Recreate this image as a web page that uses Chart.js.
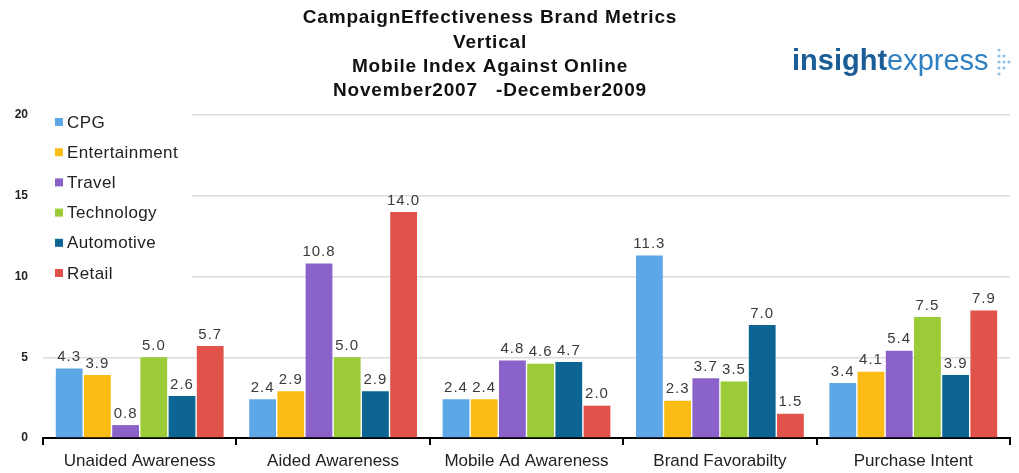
<!DOCTYPE html>
<html>
<head>
<meta charset="utf-8">
<script src="https://cdn.jsdelivr.net/npm/chart.js@4"></script>
<style>
  body { margin: 0; background: #fff; }
  #wrap { width: 1019px; height: 473px; position: relative; }
</style>
</head>
<body>
<div id="wrap"><canvas id="chart"></canvas></div>
<script>
// data
var categories = ['Unaided Awareness', 'Aided Awareness', 'Mobile Ad Awareness', 'Brand Favorabilty', 'Purchase Intent'];
var seriesNames = ['CPG', 'Entertainment', 'Travel', 'Technology', 'Automotive', 'Retail'];
var cpg = [4.3, 2.4, 2.4, 11.3, 3.4];
var entertainment = [3.9, 2.9, 2.4, 2.3, 4.1];
var travel = [0.8, 10.8, 4.8, 3.7, 5.4];
var technology = [5.0, 5.0, 4.6, 3.5, 7.5];
var automotive = [2.6, 2.9, 4.7, 7.0, 3.9];
var retail = [5.7, 14.0, 2.0, 1.5, 7.9];
var yTicks = [0, 5, 10, 15, 20];
var titleLines = ['CampaignEffectiveness Brand Metrics', 'Vertical', 'Mobile Index Against Online', 'November2007   -December2009'];

var colors = ['#5ea7e6', '#fbbc16', '#8b62c9', '#9bcb36', '#0c6592', '#e0524a'];
var values = [cpg, entertainment, travel, technology, automotive, retail];

var FONT = '"Liberation Sans", Arial, sans-serif';

// title, legend, logo and value labels
var extras = {
  id: 'extras',
  afterDatasetsDraw: function(chart) {
    var ctx = chart.ctx;
    ctx.save();
    ctx.fillStyle = '#3a3a3a';
    ctx.font = '15px ' + FONT;
    ctx.letterSpacing = '1px';
    ctx.textAlign = 'center';
    ctx.textBaseline = 'bottom';
    chart.data.datasets.forEach(function(ds, i) {
      chart.getDatasetMeta(i).data.forEach(function(bar, j) {
        ctx.fillText(ds.data[j].toFixed(1), bar.x, bar.y - 4);
      });
    });
    ctx.restore();
  },
  afterDraw: function(chart) {
    var ctx = chart.ctx;
    ctx.save();
    // title
    ctx.fillStyle = '#111';
    ctx.font = 'bold 19px ' + FONT;
    ctx.letterSpacing = '0.8px';
    ctx.textAlign = 'center';
    ctx.textBaseline = 'middle';
    titleLines.forEach(function(t, i) {
      ctx.fillText(t, 490, 18 + i * 24.3);
    });
    // legend box
    ctx.fillStyle = '#fff';
    ctx.fillRect(40, 108, 152, 182);
    ctx.font = '17px ' + FONT;
    ctx.letterSpacing = '0.4px';
    ctx.textAlign = 'left';
    seriesNames.forEach(function(n, i) {
      var y = 122 + i * 30.2;
      ctx.fillStyle = colors[i];
      ctx.fillRect(55, y - 4, 8, 8);
      ctx.fillStyle = '#222';
      ctx.fillText(n, 67, y + 1);
    });
    // logo
    ctx.letterSpacing = '0px';
    ctx.textBaseline = 'alphabetic';
    ctx.font = 'bold 29px ' + FONT;
    ctx.fillStyle = '#1b5d96';
    ctx.fillText('insight', 792, 70);
    var w = ctx.measureText('insight').width;
    ctx.font = '29px ' + FONT;
    ctx.fillStyle = '#2f80c2';
    ctx.fillText('express', 792 + w, 70);
    ctx.fillStyle = '#8fc3e8';
    var dots = [[0,0],[0,1],[0,2],[0,3],[0,4],[1,1],[1,2],[1,3],[2,2]];
    dots.forEach(function(d) {
      ctx.beginPath();
      ctx.arc(999 + d[0] * 5, 50 + d[1] * 6, 1.6, 0, Math.PI * 2);
      ctx.fill();
    });
    ctx.restore();
  }
};

new Chart(document.getElementById('chart'), {
  type: 'bar',
  data: {
    labels: categories,
    datasets: seriesNames.map(function(n, i) {
      return {
        label: n,
        data: values[i],
        backgroundColor: colors[i],
        borderWidth: 0,
        barPercentage: 0.95,
        categoryPercentage: 0.875
      };
    })
  },
  options: {
    responsive: true,
    maintainAspectRatio: false,
    animation: false,
    layout: { padding: { top: 115, right: 9, left: 0, bottom: 0 } },
    plugins: {
      legend: { display: false },
      title: { display: false },
      tooltip: { enabled: false }
    },
    scales: {
      x: {
        afterFit: function(s) { s.height = 35; },
        grid: { display: true, drawOnChartArea: false, drawTicks: true, tickLength: 7, color: '#000', lineWidth: 2, offset: true },
        border: { display: true, color: '#000', width: 2 },
        ticks: { color: '#222', font: { family: FONT, size: 17 }, padding: 6, maxRotation: 0 }
      },
      y: {
        min: 0,
        max: 20,
        afterFit: function(s) { s.width = 43; },
        afterBuildTicks: function(s) { s.ticks = yTicks.map(function(v) { return { value: v }; }); },
        grid: { color: '#dcdcdc', lineWidth: 1.5, drawTicks: false },
        border: { display: false },
        ticks: { color: '#222', font: { family: FONT, size: 12, weight: 'bold' }, padding: 15 }
      }
    }
  },
  plugins: [extras]
});
</script>
</body>
</html>
